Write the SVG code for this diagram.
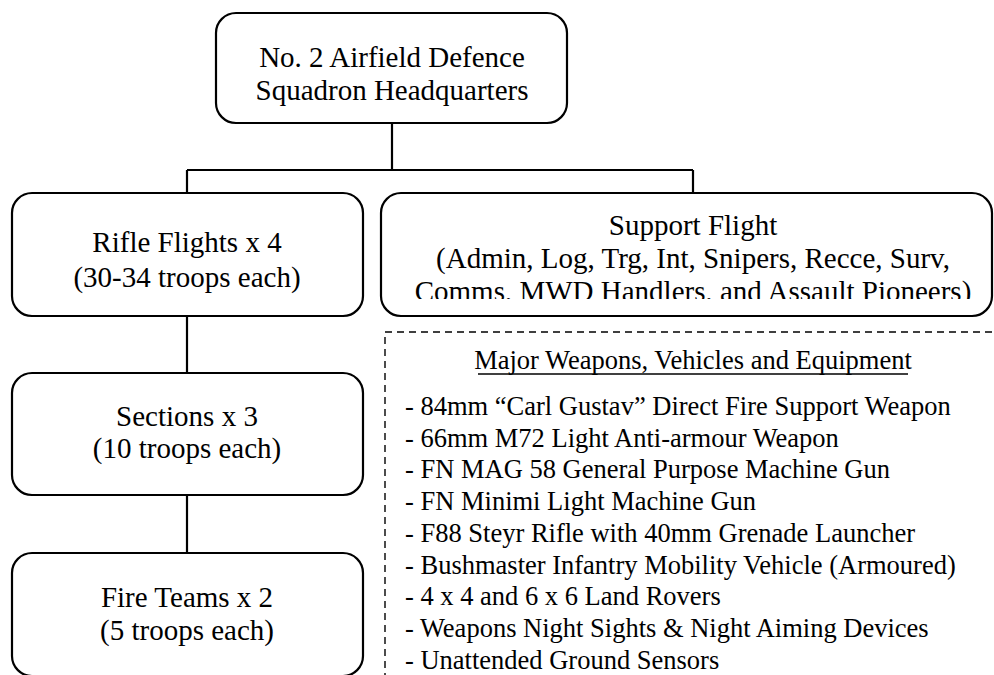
<svg xmlns="http://www.w3.org/2000/svg" width="994" height="675" viewBox="0 0 994 675">
<defs>
<style>
.box{fill:#fff;stroke:#000;stroke-width:2.2}
text{font-family:'Liberation Serif','Times New Roman',Times,'DejaVu Serif',serif;fill:#000}
.t{font-size:29px;text-anchor:middle}
.li{font-size:26.5px}
.conn{fill:none;stroke:#000;stroke-width:2.2}
.dash{fill:none;stroke:#000;stroke-width:1.4;stroke-dasharray:7 5}
</style>
<clipPath id="clipSupport"><rect x="381" y="193" width="613" height="106"/></clipPath>
</defs>
<rect width="994" height="675" fill="#fff"/>
<g id="connectors">
<path class="conn" d="M392 123 V170 M187 170 H693 M187 170 V193 M693 170 V193 M187 316 V373 M187 495 V553"/>
</g>
<g id="hq">
<rect class="box" x="216" y="13" width="351" height="110" rx="20"/>
<text class="t" x="392" y="67" font-family="Liberation Serif, serif">No. 2 Airfield Defence</text>
<text class="t" x="392" y="100" font-family="Liberation Serif, serif">Squadron Headquarters</text>
</g>
<g id="rifle">
<rect class="box" x="12" y="193" width="351" height="123" rx="20"/>
<text class="t" x="187" y="252">Rifle Flights x 4</text>
<text class="t" x="187" y="287">(30-34 troops each)</text>
</g>
<g id="support">
<rect class="box" x="381" y="193" width="611" height="123" rx="20"/>
<text class="t" x="693" y="235">Support Flight</text>
<text class="t" x="693" y="268">(Admin, Log, Trg, Int, Snipers, Recce, Surv,</text>
<text class="t" x="693" y="301" clip-path="url(#clipSupport)">Comms, MWD Handlers, and Assault Pioneers)</text>
</g>
<g id="sections">
<rect class="box" x="12" y="373" width="351" height="122" rx="20"/>
<text class="t" x="187" y="426">Sections x 3</text>
<text class="t" x="187" y="458">(10 troops each)</text>
</g>
<g id="fireteams">
<rect class="box" x="12" y="553" width="351" height="123" rx="20"/>
<text class="t" x="187" y="607">Fire Teams x 2</text>
<text class="t" x="187" y="640">(5 troops each)</text>
</g>
<g id="equipment">
<path class="dash" d="M385 680 V332 H1000"/>
<text class="li" x="693" y="369" text-anchor="middle">Major Weapons, Vehicles and Equipment</text>
<line x1="478" y1="374" x2="908" y2="374" stroke="#000" stroke-width="1.3"/>
<text class="li" x="405" y="415">- 84mm “Carl Gustav” Direct Fire Support Weapon</text>
<text class="li" x="405" y="447">- 66mm M72 Light Anti-armour Weapon</text>
<text class="li" x="405" y="478">- FN MAG 58 General Purpose Machine Gun</text>
<text class="li" x="405" y="510">- FN Minimi Light Machine Gun</text>
<text class="li" x="405" y="542">- F88 Steyr Rifle with 40mm Grenade Launcher</text>
<text class="li" x="405" y="574">- Bushmaster Infantry Mobility Vehicle (Armoured)</text>
<text class="li" x="405" y="605">- 4 x 4 and 6 x 6 Land Rovers</text>
<text class="li" x="405" y="637">- Weapons Night Sights &amp; Night Aiming Devices</text>
<text class="li" x="405" y="669">- Unattended Ground Sensors</text>
</g>
</svg>
